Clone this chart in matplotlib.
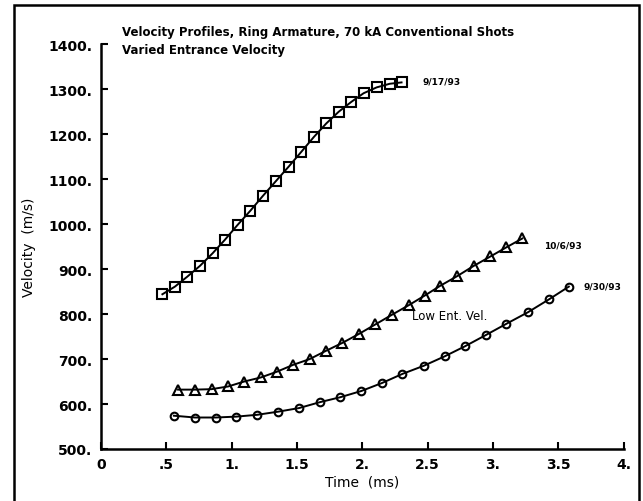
import numpy as np
import matplotlib.pyplot as plt
from matplotlib.patches import Rectangle

# 9/17/93 shot (squares)
t_917 = [0.47, 0.566, 0.66, 0.757, 0.854, 0.948, 1.045, 1.144, 1.24, 1.34,
         1.437, 1.534, 1.63, 1.725, 1.82, 1.917, 2.01, 2.11, 2.21, 2.30]
v_917 = [844, 861, 883, 907, 935, 965, 998, 1030, 1063, 1096,
         1128, 1161, 1194, 1224, 1250, 1272, 1291, 1304, 1312, 1315]

# 10/6/93 shot (triangles)
t_106 = [0.59, 0.719, 0.846, 0.973, 1.096, 1.223, 1.348, 1.47, 1.598, 1.72, 1.848,
         1.975, 2.10, 2.23, 2.357, 2.477, 2.597, 2.724, 2.852, 2.98, 3.10, 3.224]
v_106 = [632, 632, 633, 639, 650, 659, 672, 687, 700, 718, 736,
         756, 777, 799, 820, 841, 863, 884, 907, 928, 948, 968]

# 9/30/93 shot (circles)
t_930 = [0.558, 0.719, 0.879, 1.037, 1.195, 1.356, 1.516, 1.674, 1.83, 1.993,
         2.153, 2.307, 2.47, 2.63, 2.783, 2.943, 3.10, 3.267, 3.43, 3.58]
v_930 = [574, 570, 570, 572, 576, 583, 591, 604, 615, 629,
         647, 667, 685, 706, 728, 753, 778, 804, 833, 861]

xticks = [0, 0.5, 1, 1.5, 2, 2.5, 3, 3.5, 4]
xticklabels = ['0', '.5', '1.', '1.5', '2.', '2.5', '3.', '3.5', '4.']
yticks = [500, 600, 700, 800, 900, 1000, 1100, 1200, 1300, 1400]
yticklabels = [f'{y}.' for y in yticks]

fig = plt.figure(figsize=(6.43, 5.02), dpi=100)
ax = fig.add_axes([0.157, 0.1036, 0.813, 0.8064])

ax.plot(t_917, v_917, color='black', lw=1.4, marker='s', ms=6.5,
        mfc='none', mec='black', mew=1.5)
ax.plot(t_106, v_106, color='black', lw=1.4, marker='^', ms=7,
        mfc='none', mec='black', mew=1.5)
ax.plot(t_930, v_930, color='black', lw=1.4, marker='o', ms=5.5,
        mfc='none', mec='black', mew=1.5)

ax.set_xlim(0, 4)
ax.set_ylim(500, 1400)
ax.set_xticks(xticks)
ax.set_xticklabels(xticklabels)
ax.set_yticks(yticks)
ax.set_yticklabels(yticklabels)
ax.tick_params(direction='in', length=5, width=1.5, labelsize=10, pad=6)
for lab in ax.get_xticklabels() + ax.get_yticklabels():
    lab.set_fontweight('bold')

ax.spines['top'].set_visible(False)
ax.spines['right'].set_visible(False)
ax.spines['left'].set_linewidth(1.8)
ax.spines['bottom'].set_linewidth(1.8)

ax.set_xlabel('Time  (ms)', fontsize=10, labelpad=2)
ax.set_ylabel('Velocity  (m/s)', fontsize=10)
ax.yaxis.set_label_coords(-0.125, 0.5)

# title lines and curve labels
ax.text(0.16, 1429, 'Velocity Profiles, Ring Armature, 70 kA Conventional Shots',
        fontsize=8.5, fontweight='bold', va='center', clip_on=False)
ax.text(0.16, 1389, 'Varied Entrance Velocity', fontsize=8.5,
        fontweight='bold', va='center')
ax.text(2.46, 1318, '9/17/93', fontsize=6.5, fontweight='bold', va='center')
ax.text(3.39, 954, '10/6/93', fontsize=6.5, fontweight='bold', va='center')
ax.text(3.69, 862, '9/30/93', fontsize=6.5, fontweight='bold', va='center')
ax.text(2.38, 796, 'Low Ent. Vel.', fontsize=8.5, va='center')

# outer frame
fig.patches.append(Rectangle((0.022, -0.02), 0.972, 1.008, transform=fig.transFigure,
                             fill=False, ec='black', lw=1.8))

fig.savefig('out.png', dpi=100)
